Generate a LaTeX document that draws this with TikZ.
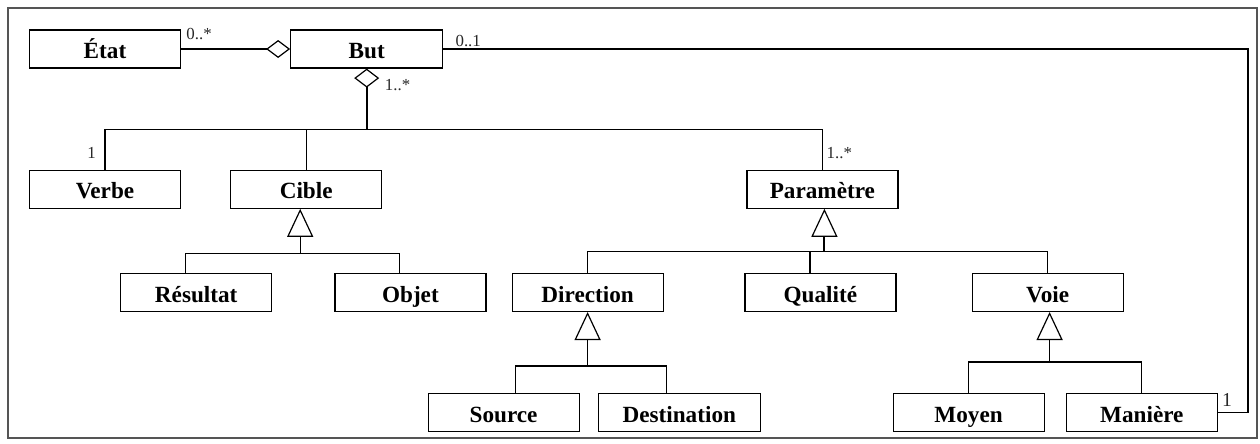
\documentclass[tikz,border=0pt]{standalone}
\usepackage{fontspec}
\setmainfont{Liberation Serif}
\usepackage{tikz}
\usetikzlibrary{arrows.meta,positioning}
\definecolor{framegray}{RGB}{85,85,85}
\definecolor{multgray}{RGB}{40,40,40}

\begin{document}
\begin{tikzpicture}[node distance=25.25mm and 27.25mm, >=Stealth,
		umlclass/.style={draw=black, rectangle, minimum height=9.5mm, minimum width=37.75mm, line width=0.3mm, inner sep=1mm, text height=15pt, text depth=1.3pt, font=\fontsize{16.5}{18}\selectfont\bfseries},
		mult/.style={draw=none, inner sep=0pt, text=multgray, font=\fontsize{12}{14}\selectfont},
		link/.style={line width=0.3mm, -, color=black},
		stem/.style={line width=0.5mm, -, color=black},
		aggr/.style 2 args={-{Diamond[open, length=#1, width=#2, line width=0.3mm]}},
		gen/.style={-{Triangle[open, length=7mm, width=6.5mm, line width=0.3mm]}}
		]
		\useasboundingbox (-26.25mm,12.25mm) rectangle (288.75mm,-98.5mm);
		
		\node[draw=framegray, line width=0.4mm, minimum width=312.25mm, minimum height=107.5mm, inner sep=0pt] (frame) at (131.875mm,-43.5mm) {};
		
		\node[umlclass](etat) {État};
		\node[umlclass, minimum width=38mm](but) [right=of etat] {But};
		\node[umlclass](verbe) [below=of etat] {Verbe};
		\node[umlclass](cible) [right=12.25mm of verbe] {Cible};
		\node[umlclass](param) [right=91mm of cible] {Paramètre};
		\node[umlclass](resultat) [below=16mm of cible, xshift=-27.5mm] {Résultat};
		\node[umlclass](objet) [right=15.5mm of resultat] {Objet};
		\node[umlclass](direction) [right=6.25mm of objet] {Direction};
		\node[umlclass](qualite) [below=16mm of param, xshift=-0.5mm] {Qualité};
		\node[umlclass](voie) [right=18.75mm of qualite] {Voie};
		\node[umlclass](source) [below=20.25mm of direction, xshift=-21mm] {Source};
		\node[umlclass, minimum width=40.5mm](destination) [right=4.5mm of source] {Destination};
		\node[umlclass](moyen) [below=20.25mm of voie, xshift=-19.75mm] {Moyen};
		\node[umlclass](maniere) [right=5.25mm of moyen] {Manière};
		
		\coordinate[below=15.25mm of but] (jbut);
		\coordinate[right=7.5mm of maniere] (jright);
		\coordinate[below=11.25mm of cible, xshift=-1.5mm] (jcible);
		\coordinate[below=10.75mm of param, xshift=0.5mm] (jparam);
		\coordinate[below=13.5mm of direction] (jdir);
		\coordinate[below=12.5mm of voie, xshift=0.5mm] (jvoie);
		
		% aggregations
		\draw [link, aggr={6mm}{4.5mm}] (etat.east) -- (but.west);
		\draw [stem, aggr={4.75mm}{6.25mm}] (jbut) -- (but.south);
		\draw [link] (verbe.north) |- (jbut) -| (param.north);
		\draw [link] (cible.north) -- (cible.north |- jbut);
		\draw [link] (but.east) -| (jright) -- (maniere.east);
		
		% generalisations
		\draw [link, gen] (jcible) -- (jcible |- cible.south);
		\draw [link] ([xshift=-2.75mm]resultat.north) |- (jcible) -| ([xshift=-2.75mm]objet.north);
		\draw [stem, gen] (jparam) -- (jparam |- param.south);
		\draw [link] (direction.north) |- (jparam) -| (voie.north);
		\draw [link] ([xshift=-2.6mm]qualite.north) -- ([xshift=-2.6mm]qualite.north |- jparam);
		\draw [link, gen] (jdir) -- (direction.south);
		\draw [link] ([xshift=3mm]source.north) |- (jdir) -| ([xshift=-3.25mm]destination.north);
		\draw [link, gen] (jvoie) -- (jvoie |- voie.south);
		\draw [link] (moyen.north) |- (jvoie) -| (maniere.north);
		
		% multiplicities
		\node[mult](metat) [above right=2.25mm and 1.25mm of etat.east] {0..*};
		\node[mult](mbut) [below right=2.5mm and 4.5mm of but.south] {1..*};
		\node[mult](mverbe) [above left=2.75mm and 2.25mm of verbe.north] {1};
		\node[mult](mbutright) [above right=0.5mm and 3mm of but.east] {0..1};
		\node[mult](mparam) [above right=2.75mm and 1mm of param.north] {1..*};
		\node[mult, font=\fontsize{14}{16}\selectfont](mmaniere) [above right=1.5mm and 1mm of maniere.east] {1};
\end{tikzpicture}
\end{document}
